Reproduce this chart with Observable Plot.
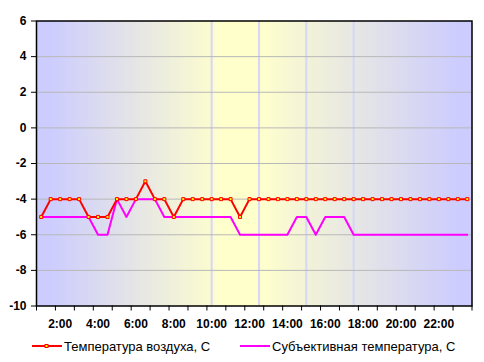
<!DOCTYPE html>
<html>
<head>
<meta charset="utf-8">
<script src="https://cdn.jsdelivr.net/npm/d3@7"></script>
<script src="https://cdn.jsdelivr.net/npm/@observablehq/plot@0.6"></script>
<style>
  body { margin: 0; background: #ffffff; }
  #wrap { position: relative; width: 484px; height: 362px; font-family: "Liberation Sans", Arial, sans-serif; }
  #legend { position: absolute; left: 0; top: 336px; width: 484px; height: 26px; font-size: 13px; color: #000; }
  .item { position: absolute; top: 0; height: 20px; display: flex; align-items: center; white-space: nowrap; }
</style>
</head>
<body>
<div id="wrap">
  <div id="chart"></div>
  <div id="legend"></div>
</div>
<script>
const times = ["1:00","1:30","2:00","2:30","3:00","3:30","4:00","4:30","5:00","5:30",
  "6:00","6:30","7:00","7:30","8:00","8:30","9:00","9:30","10:00","10:30",
  "11:00","11:30","12:00","12:30","13:00","13:30","14:00","14:30","15:00","15:30",
  "16:00","16:30","17:00","17:30","18:00","18:30","19:00","19:30","20:00","20:30",
  "21:00","21:30","22:00","22:30","23:00","23:30"];
const airTemp = [-5,-4,-4,-4,-4,-5,-5,-5,-4,-4,
  -4,-3,-4,-4,-5,-4,-4,-4,-4,-4,
  -4,-5,-4,-4,-4,-4,-4,-4,-4,-4,
  -4,-4,-4,-4,-4,-4,-4,-4,-4,-4,
  -4,-4,-4,-4,-4,-4];
const feltTemp = [-5,-5,-5,-5,-5,-5,-6,-6,-4,-5,
  -4,-4,-4,-5,-5,-5,-5,-5,-5,-5,
  -5,-6,-6,-6,-6,-6,-6,-5,-5,-6,
  -5,-5,-5,-6,-6,-6,-6,-6,-6,-6,
  -6,-6,-6,-6,-6,-6];
const labelTimes = ["2:00","4:00","6:00","8:00","10:00","12:00","14:00","16:00","18:00","20:00","22:00"];
const shadeTimes = ["10:00","12:30","15:00","17:30"];
const yTicks = [-10,-8,-6,-4,-2,0,2,4,6];
const seriesNames = ["Температура воздуха, С", "Субъективная температура, С"];

const idx = t => times.indexOf(t);
const n = times.length;
const boundaryTicks = d3.range(-0.5, n + 0.5, 2);

const gradientDefs = () => {
  const defs = d3.create("svg:defs");
  const g = defs.append("linearGradient").attr("id", "bg").attr("x1", 0).attr("x2", 1).attr("y1", 0).attr("y2", 0);
  [[0, "#ccccff"], [0.03, "#ccccff"], [0.43, "#ffffcc"], [0.51, "#ffffcc"], [0.97, "#ccccff"], [1, "#ccccff"]]
    .forEach(([o, c]) => g.append("stop").attr("offset", o).attr("stop-color", c));
  return defs.node();
};

const chart = Plot.plot({
  width: 484,
  height: 336,
  marginLeft: 36,
  marginRight: 12.5,
  marginTop: 20.5,
  marginBottom: 30.5,
  style: { fontFamily: "'Liberation Sans', Arial, sans-serif", background: "transparent", color: "#000" },
  x: { type: "linear", domain: [-0.5, n - 0.5] },
  y: { domain: [-10, 6] },
  marks: [
    gradientDefs,
    Plot.frame({ fill: "url(#bg)", stroke: "none" }),
    Plot.ruleX(shadeTimes.map(idx), { stroke: "#d6d6f6", strokeWidth: 2 }),
    Plot.gridY(yTicks.filter(v => v > -10 && v < 6), { stroke: "#b8b8b8", strokeOpacity: 1, strokeWidth: 1 }),
    Plot.axisY({ ticks: yTicks, tickSize: 5, tickPadding: 5, tickFormat: d => String(d), fontWeight: "bold", fontSize: 12, label: null }),
    Plot.axisX({ ticks: boundaryTicks, tickSize: 5, tickFormat: () => "", label: null }),
    Plot.axisX({ ticks: labelTimes.map(idx), tickSize: 0, tickPadding: 13, tickFormat: i => times[i], fontWeight: "bold", fontSize: 12, label: null }),
    Plot.lineY(feltTemp, { x: (d, i) => i, y: d => d, stroke: "#ff00ff", strokeWidth: 2 }),
    Plot.lineY(airTemp, { x: (d, i) => i, y: d => d, stroke: "#ff0000", strokeWidth: 2 }),
    Plot.dot(airTemp, { x: (d, i) => i, y: d => d, symbol: "square", r: 1.7, fill: "#ffff00", stroke: "#ff0000", strokeWidth: 1 }),
    Plot.frame({ stroke: "#000", strokeWidth: 1.5 })
  ]
});
document.getElementById("chart").appendChild(chart);

const legend = document.getElementById("legend");
const items = [
  { name: seriesNames[0], color: "#ff0000", marker: true, left: 32 },
  { name: seriesNames[1], color: "#ff00ff", marker: false, left: 240 }
];
items.forEach(it => {
  const d = document.createElement("div");
  d.className = "item";
  d.style.left = it.left + "px";
  d.innerHTML = `<svg width="30" height="10" style="margin-right:2px"><line x1="0" x2="30" y1="5" y2="5" stroke="${it.color}" stroke-width="2"/>` +
    (it.marker ? `<rect x="13" y="3.5" width="3" height="3" fill="#ffff00" stroke="${it.color}" stroke-width="1"/>` : "") +
    `</svg><span>${it.name}</span>`;
  legend.appendChild(d);
});
</script>
</body>
</html>
